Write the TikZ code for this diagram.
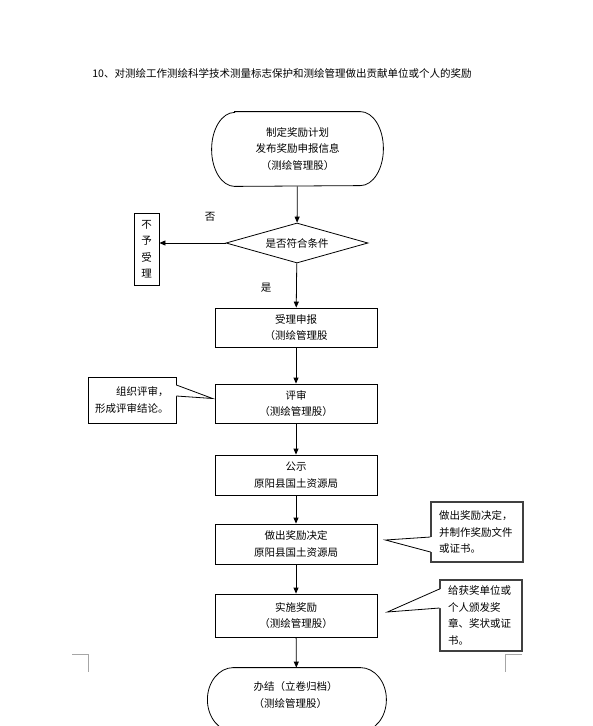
\documentclass[tikz,border=0pt]{standalone}
\usepackage{fontspec}
\setmainfont{Noto Sans CJK SC}
\usepackage{tikz}
\usetikzlibrary{shapes.geometric, arrows.meta, positioning, calc}

\begin{document}
\begin{tikzpicture}[x=1pt, y=-1pt, line width=0.8pt, font=\fontsize{10.5}{16.5}\selectfont]
    % Define styles
    \tikzstyle{stage} = [rectangle, draw, minimum width=162pt, minimum height=40pt, align=center, inner sep=0pt]
    \tikzstyle{terminal} = [rectangle, minimum width=171pt, minimum height=74pt, align=center, inner sep=0pt]
    \tikzstyle{decision} = [diamond, draw, shape aspect=3.5, minimum width=142pt, minimum height=40pt, inner sep=0pt]
    \tikzstyle{note} = [rectangle, draw, align=left, inner xsep=8pt, inner ysep=0pt]
    \tikzstyle{arrow} = [-{Triangle[length=6pt, width=5pt]}]
    \tikzstyle{cropmark} = [draw=black!35]

    \clip (0,0) rectangle (593,726);

    % Title
    \node[anchor=west, inner sep=0pt] (title) at (92,73) {10、对测绘工作测绘科学技术测量标志保护和测绘管理做出贡献单位或个人的奖励};

    % Start
    \node[terminal] (start) at (297.5,149) {制定奖励计划\\发布奖励申报信息\\（测绘管理股）};
    \draw ([xshift=23pt]start.north west) -- ([xshift=-23pt]start.north east)
        arc[start angle=90, end angle=-90, x radius=23pt, y radius=37pt]
        -- ([xshift=23pt]start.south west)
        arc[start angle=270, end angle=90, x radius=23pt, y radius=37pt] -- cycle;

    % Check and reject
    \node[decision] (check) at (297,243) {是否符合条件};
    \node[rectangle, draw, minimum width=25pt, minimum height=72pt, inner sep=0pt, align=center] (reject) at (146.5,249) {不\\予\\受\\理};
    \node (no) at (210,217) {否};
    \node (yes) at (266,288) {是};

    % Main steps
    \node[stage, minimum height=39pt] (accept) at (296,327.5) {受理申报\\（测绘管理股};
    \node[stage, minimum height=39pt] (review) at (296,403.5) {评审\\（测绘管理股）};
    \node[stage] (publish) at (296,475) {公示\\原阳县国土资源局};
    \node[stage] (decide) at (296,544) {做出奖励决定\\原阳县国土资源局};
    \node[stage, minimum height=43pt] (award) at (296,615.5) {实施奖励\\（测绘管理股）};

    % End
    \node[terminal, minimum width=179pt, minimum height=54pt, text width=86pt, align=left] (finish) at (296.5,695) {办结（立卷归档）\\（测绘管理股）};
    \draw ([xshift=26pt]finish.north west) -- ([xshift=-26pt]finish.north east)
        arc[start angle=90, end angle=-90, x radius=26pt, y radius=32pt]
        -- ++(-127pt,0)
        arc[start angle=270, end angle=90, x radius=26pt, y radius=32pt] -- cycle;

    % Notes
    \node[note, inner xsep=7pt, minimum width=88pt, minimum height=46pt, text width=74pt] (noteL) at (132,400) {\hspace*{2em}组织评审，\\形成评审结论。};
    \node[note, draw=black!75, line width=1.1pt, minimum width=92pt, minimum height=60pt, text width=76pt] (noteA) at (477,532) {做出奖励决定，\\并制作奖励文件\\或证书。};
    \node[note, draw=black!75, line width=1.1pt, minimum width=82pt, minimum height=71pt, text width=66pt] (noteB) at (481,615.5) {给获奖单位或\\个人颁发奖\\章、奖状或证\\书。};

    % Note pointers
    \fill[white] ([xshift=-1pt,yshift=15pt]noteL.east) -- ([xshift=-2pt,yshift=5pt]review.west) -- ([xshift=-1pt,yshift=4pt]noteL.east) -- cycle;
    \draw ([yshift=15pt]noteL.east) -- ([xshift=-2pt,yshift=5pt]review.west) -- ([yshift=4pt]noteL.east);
    \fill[white] ([xshift=1.5pt,yshift=-5pt]noteA.west) -- ([xshift=8pt,yshift=4pt]decide.east) -- ([xshift=1.5pt,yshift=-20pt]noteA.west) -- cycle;
    \draw ([yshift=-5pt]noteA.west) -- ([xshift=8pt,yshift=4pt]decide.east) -- ([yshift=-20pt]noteA.west);
    \fill[white] ([xshift=1.5pt,yshift=26.5pt]noteB.west) -- ([xshift=10pt,yshift=3.5pt]award.east) -- ([xshift=1.5pt,yshift=7.5pt]noteB.west) -- cycle;
    \draw ([yshift=26.5pt]noteB.west) -- ([xshift=10pt,yshift=3.5pt]award.east) -- ([yshift=7.5pt]noteB.west);

    % Flow
    \draw[arrow] (start) -- (check);
    \draw[arrow] (check.west) -- (check.west -| reject.east);
    \draw[arrow] (check) -- (accept);
    \draw[arrow] (accept) -- (review);
    \draw[arrow] (review) -- (publish);
    \draw[arrow] (publish) -- (decide);
    \draw[arrow] (decide) -- (award);
    \draw[arrow] (award) -- (finish);

    % Crop marks
    \draw[cropmark] (72,654) -- (88,654) -- (88,672);
    \draw[cropmark] (522,654) -- (505,654) -- (505,672);
\end{tikzpicture}
\end{document}
